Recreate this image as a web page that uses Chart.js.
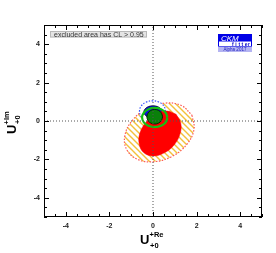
<!DOCTYPE html>
<html><head><meta charset="utf-8">
<script src="https://cdn.jsdelivr.net/npm/chart.js@4/dist/chart.umd.min.js"></script>
<style>html,body{margin:0;padding:0;background:#fff}canvas{display:block}</style>
</head><body>
<canvas id="c" width="276" height="253"></canvas>
<script>
// ---- data ----
const xTickLabels = [-4, -2, 0, 2, 4];
const yTickLabels = [-4, -2, 0, 2, 4];
const axisRange = [-5, 5];
// excluded-area contours, points along each contour [Re, Im]
const hatch95 = [[1.79,0.30],[1.88,-0.44],[1.55,-1.22],[0.88,-1.84],[0.05,-2.12],[-0.71,-2.00],[-1.20,-1.50],[-1.29,-0.76],[-0.95,0.03],[-0.28,0.64],[0.55,0.93],[1.30,0.81]];
const redRegion = [[1.06,0.35],[1.27,-0.09],[1.24,-0.67],[0.96,-1.26],[0.50,-1.67],[0.00,-1.82],[-0.42,-1.65],[-0.63,-1.21],[-0.60,-0.63],[-0.31,-0.05],[0.14,0.37],[0.64,0.52]];
const blueDotted = [[0.58,0.50],[0.50,0.78],[0.28,0.98],[-0.02,1.05],[-0.32,0.98],[-0.54,0.78],[-0.62,0.50],[-0.54,0.22],[-0.32,0.02],[-0.02,-0.05],[0.28,0.02],[0.50,0.22]];
const blueRegion = [[0.42,0.47],[0.36,0.63],[0.21,0.75],[0.00,0.79],[-0.21,0.75],[-0.36,0.63],[-0.42,0.47],[-0.36,0.31],[-0.21,0.19],[0.00,0.15],[0.21,0.19],[0.36,0.31]];
const greenRing = [[0.66,0.18],[0.58,0.43],[0.37,0.61],[0.08,0.68],[-0.21,0.61],[-0.42,0.43],[-0.50,0.18],[-0.42,-0.07],[-0.21,-0.25],[0.08,-0.32],[0.37,-0.25],[0.58,-0.07]];
const greenRegion = [[0.44,0.22],[0.39,0.41],[0.26,0.55],[0.08,0.60],[-0.10,0.55],[-0.23,0.41],[-0.28,0.22],[-0.23,0.03],[-0.10,-0.11],[0.08,-0.16],[0.26,-0.11],[0.39,0.03]];
const zeroLineX = [[0,-5],[0,5]];
const zeroLineY = [[-5,0],[5,0]];
const legendText = "excluded area has CL > 0.95";

// ---- styles ----
const FONT = "'Liberation Sans', Arial, Helvetica, sans-serif";
function hatchPattern() {
  const s = 6, c = document.createElement('canvas');
  c.width = s; c.height = s;
  const g = c.getContext('2d');
  g.fillStyle = '#ffffff'; g.fillRect(0,0,s,s);
  g.strokeStyle = '#f3c13a'; g.lineWidth = 1.4;
  g.beginPath();
  g.moveTo(-1,-1); g.lineTo(s+1,s+1);
  g.moveTo(-1,s-1); g.lineTo(1,s+1);
  g.moveTo(s-1,-1); g.lineTo(s+1,1);
  g.stroke();
  return g.createPattern(c, 'repeat');
}
const pts = a => a.concat([a[0]]).map(p => ({x:p[0], y:p[1]}));
const line = a => a.map(p => ({x:p[0], y:p[1]}));

const layers = [
  {data: pts(hatch95), fill:'shape', backgroundColor: hatchPattern(), borderColor:'#ff5a5a', borderWidth:1.2, borderDash:[1.5,1.5], tension:0.4},
  {data: pts(blueDotted), fill:'shape', backgroundColor:'#ffffff', borderColor:'#3a55ff', borderWidth:1.2, borderDash:[1.5,1.5], tension:0.4},
  {data: pts(greenRing), fill:'shape', backgroundColor:'#ffffff', borderColor:'rgba(0,0,0,0)', borderWidth:0, tension:0.4},
  {data: pts(blueRegion), fill:'shape', backgroundColor:'#1010e0', borderColor:'#000030', borderWidth:0.8, tension:0.4},
  {data: pts(redRegion), fill:'shape', backgroundColor:'#ff0000', borderColor:'#ff0000', borderWidth:0.5, tension:0.4},
  {data: pts(greenRing), fill:false, borderColor:'#12c212', borderWidth:2.2, tension:0.4},
  {data: pts(greenRegion), fill:'shape', backgroundColor:'#0a800a', borderColor:'#002200', borderWidth:0.9, tension:0.4},
  {data: line(zeroLineX), fill:false, borderColor:'#555', borderWidth:1, borderDash:[1,2], tension:0},
  {data: line(zeroLineY), fill:false, borderColor:'#555', borderWidth:1, borderDash:[1,2], tension:0}
];
const datasets = layers.map((d,i) => Object.assign({type:'line', pointRadius:0, order: 100 - i}, d));

const decor = {
  id:'decor',
  afterDatasetsDraw(chart) {
    const ctx = chart.ctx, a = chart.chartArea, xs = chart.scales.x, ys = chart.scales.y;
    ctx.save();
    ctx.strokeStyle = '#000'; ctx.lineWidth = 1;
    ctx.strokeRect(Math.round(a.left)+0.5, Math.round(a.top)+0.5, Math.round(a.right-a.left)-1, Math.round(a.bottom-a.top)-1);
    ctx.beginPath();
    for (let v = axisRange[0]; v <= axisRange[1] + 1e-9; v += 0.5) {
      const major = xTickLabels.indexOf(v) >= 0;
      const L = major ? 5 : 3;
      const px = Math.round(xs.getPixelForValue(v)) + 0.5;
      ctx.moveTo(px, a.bottom); ctx.lineTo(px, a.bottom - L);
      ctx.moveTo(px, a.top); ctx.lineTo(px, a.top + L);
      const majorY = yTickLabels.indexOf(v) >= 0;
      const Ly = majorY ? 5 : 3;
      const py = Math.round(ys.getPixelForValue(v)) + 0.5;
      ctx.moveTo(a.left, py); ctx.lineTo(a.left + Ly, py);
      ctx.moveTo(a.right, py); ctx.lineTo(a.right - Ly, py);
    }
    ctx.stroke();

    // legend box
    ctx.fillStyle = '#e4e4e4'; ctx.strokeStyle = '#b8b8b8';
    ctx.fillRect(50, 31, 97, 6.5); ctx.strokeRect(50.5, 31.5, 96, 5.5);
    ctx.fillStyle = '#333'; ctx.font = '7px ' + FONT; ctx.textBaseline = 'middle'; ctx.textAlign = 'left';
    ctx.fillText(legendText, 54, 34.6);

    // logo
    ctx.fillStyle = '#0000e6'; ctx.fillRect(218, 34, 34, 7);
    ctx.fillStyle = '#ffffff'; ctx.fillRect(218, 41, 34, 5.5);
    ctx.strokeStyle = '#0000e6'; ctx.lineWidth = 1; ctx.strokeRect(218.5, 41, 33, 5.5);
    ctx.fillStyle = '#b4b4f2'; ctx.fillRect(218, 46.5, 34, 5.5);
    ctx.fillStyle = '#ffffff'; ctx.font = 'italic 8px ' + FONT; ctx.textAlign = 'left'; ctx.textBaseline = 'alphabetic';
    ctx.fillText('CKM', 221, 40.6);
    ctx.fillStyle = '#0000c8'; ctx.font = 'bold 5px ' + FONT;
    const f = 'fitter'; for (let i = 0; i < f.length; i++) ctx.fillText(f[i], 232 + i*3.2, 46);
    ctx.fillStyle = '#2020c0'; ctx.font = '4.5px ' + FONT; ctx.textAlign = 'center';
    ctx.fillText('Alpha 2017', 235, 51);

    // axis titles
    ctx.fillStyle = '#000'; ctx.textAlign = 'left'; ctx.textBaseline = 'alphabetic';
    ctx.font = 'bold 13px ' + FONT; ctx.fillText('U', 140, 244);
    ctx.font = 'bold 7.5px ' + FONT; ctx.fillText('+Re', 149.5, 236.5); ctx.fillText('+0', 150, 247.5);
    ctx.save();
    ctx.translate(16, 134); ctx.rotate(-Math.PI/2);
    ctx.font = 'bold 13px ' + FONT; ctx.fillText('U', 0, 0);
    ctx.font = 'bold 7.5px ' + FONT; ctx.fillText('+Im', 9.5, -7.5); ctx.fillText('+0', 10, 3.5);
    ctx.restore();
    ctx.restore();
  }
};

new Chart(document.getElementById('c'), {
  type:'line',
  data:{datasets},
  options:{
    responsive:false, animation:false, devicePixelRatio:1,
    layout:{padding:{left:0, right:14, top:25, bottom:0}},
    plugins:{legend:{display:false}, tooltip:{enabled:false}},
    scales:{
      x:{type:'linear', min:axisRange[0], max:axisRange[1],
         grid:{display:false, drawTicks:false}, border:{display:false},
         afterBuildTicks: s => { s.ticks = xTickLabels.map(v => ({value:v})); },
         afterFit: s => { s.height = 36; },
         ticks:{padding:5, color:'#222', font:{family:FONT, size:7, weight:'bold'}, maxRotation:0, callback: v => String(v)}},
      y:{type:'linear', min:axisRange[0], max:axisRange[1],
         grid:{display:false, drawTicks:false}, border:{display:false},
         afterBuildTicks: s => { s.ticks = yTickLabels.map(v => ({value:v})); },
         afterFit: s => { s.width = 44; },
         ticks:{padding:4, color:'#222', font:{family:FONT, size:7, weight:'bold'}, callback: v => String(v)}}
    }
  },
  plugins:[decor]
});
</script>
</body></html>
